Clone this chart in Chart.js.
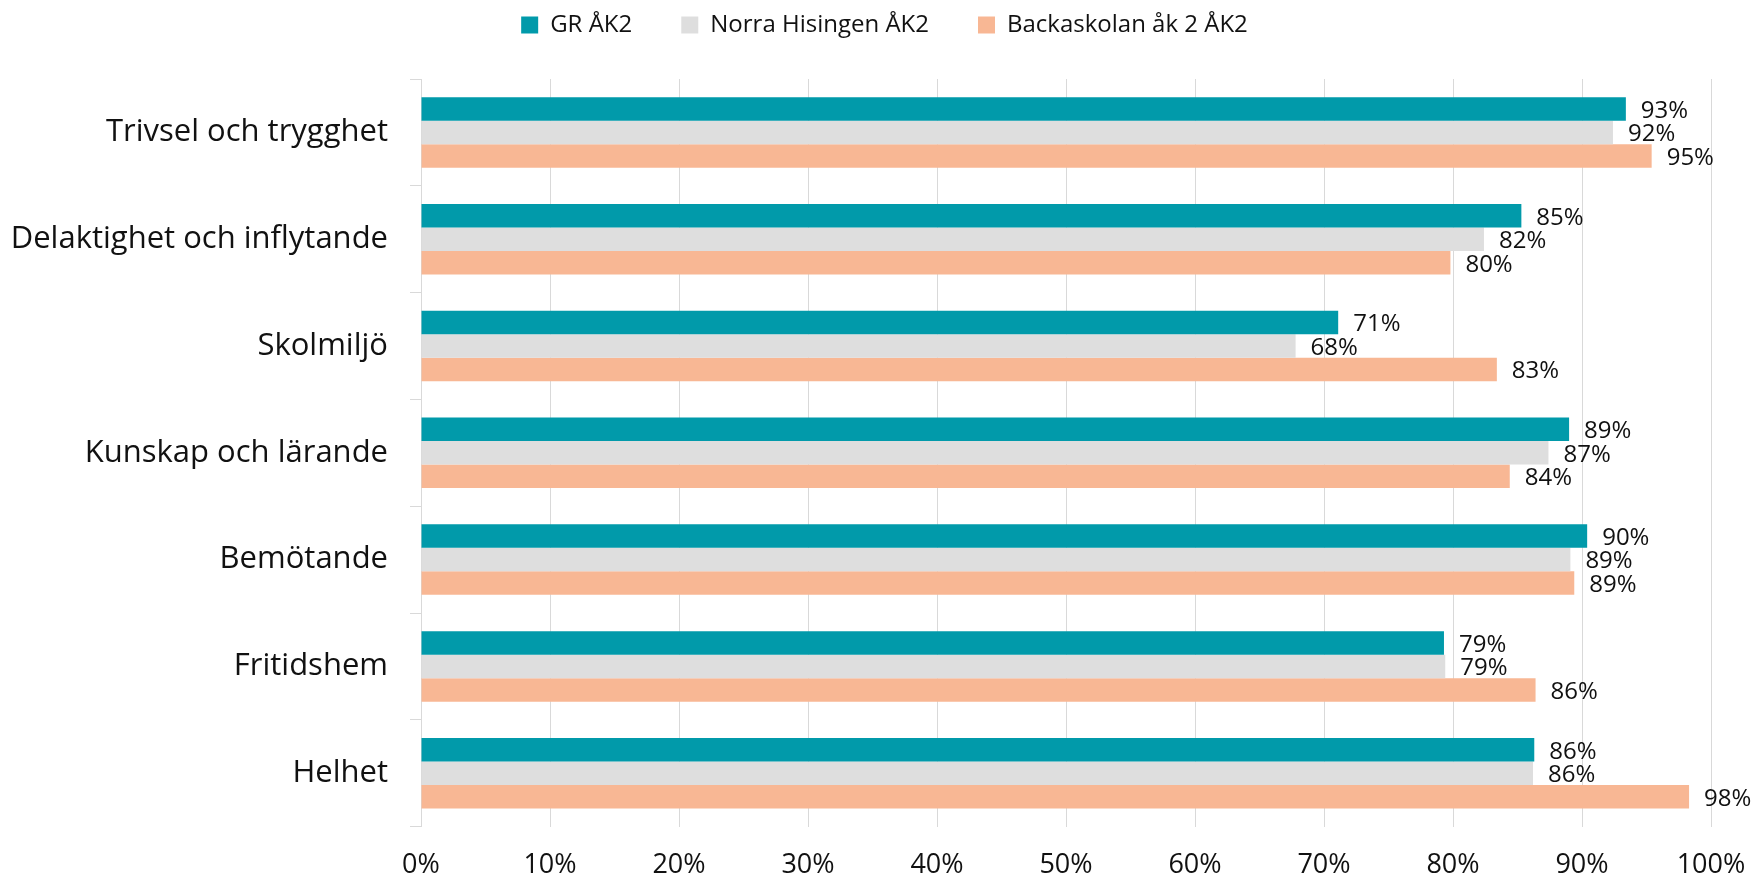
<!DOCTYPE html>
<html>
<head>
<meta charset="utf-8">
<script src="https://cdn.jsdelivr.net/npm/chart.js@4.4.1/dist/chart.umd.min.js"></script>
<style>
  html, body { margin: 0; padding: 0; background: #fff; }
</style>
</head>
<body>
<canvas id="chart" width="1755" height="878"></canvas>
<script>
const categories = ['Trivsel och trygghet', 'Delaktighet och inflytande', 'Skolmiljö', 'Kunskap och lärande', 'Bemötande', 'Fritidshem', 'Helhet']
const seriesNames = ['GR ÅK2', 'Norra Hisingen ÅK2', 'Backaskolan åk 2 ÅK2']
const grValues = [93.4, 85.3, 71.1, 89.0, 90.4, 79.3, 86.3]
const norraValues = [92.4, 82.4, 67.8, 87.4, 89.1, 79.4, 86.2]
const backaValues = [95.4, 79.8, 83.4, 84.4, 89.4, 86.4, 98.3]
const colors = ['#019aaa', '#dedede', '#f8b794']

const FONT = '"Open Sans", "Noto Sans", sans-serif'
const TEXT = '#111'

// value labels at the end of each bar
const barLabels = {
    id: 'barLabels',
    afterDatasetsDraw(chart) {
        const ctx = chart.ctx
        ctx.save()
        ctx.font = '24px ' + FONT
        ctx.fillStyle = TEXT
        ctx.textBaseline = 'middle'
        chart.data.datasets.forEach((ds, i) => {
            chart.getDatasetMeta(i).data.forEach((bar, j) => {
                ctx.fillText(Math.round(ds.data[j]) + '%', bar.x + 15, bar.y + 2)
            })
        })
        ctx.restore()
    }
}

// fixed legend height so the plot starts where it should, legend nudged right
const legendBox = {
    id: 'legendBox',
    afterInit(chart) {
        const fit = chart.legend.fit
        chart.legend.fit = function () {
            fit.call(this)
            this.height = 115
        }
    },
    afterLayout(chart) {
        chart.legend.left += 29
        chart.legend.right += 29
    }
}

new Chart(document.getElementById('chart').getContext('2d'), {
    type: 'bar',
    data: {
        labels: categories,
        datasets: [
            {label: seriesNames[0], data: grValues, backgroundColor: colors[0]},
            {label: seriesNames[1], data: norraValues, backgroundColor: colors[1]},
            {label: seriesNames[2], data: backaValues, backgroundColor: colors[2]}
        ]
    },
    plugins: [barLabels, legendBox],
    options: {
        indexAxis: 'y',
        responsive: false,
        animation: false,
        devicePixelRatio: 1,
        layout: {
            padding: {top: -36, right: 44, left: 0, bottom: -27}
        },
        datasets: {
            bar: {
                categoryPercentage: 0.66,
                barPercentage: 1.0,
                borderWidth: 0
            }
        },
        plugins: {
            legend: {
                position: 'top',
                labels: {
                    boxWidth: 17,
                    boxHeight: 17,
                    padding: 49,
                    color: TEXT,
                    font: {family: FONT, size: 24}
                }
            },
            tooltip: {enabled: false}
        },
        scales: {
            x: {
                min: 0,
                max: 100,
                ticks: {
                    stepSize: 10,
                    padding: 23,
                    color: TEXT,
                    font: {family: FONT, size: 27},
                    callback: v => v + '%'
                },
                grid: {
                    color: '#d9d9d9',
                    drawTicks: false
                },
                border: {display: false},
                afterFit: scale => {
                    scale.paddingLeft = 0
                    scale.paddingRight = 0
                }
            },
            y: {
                ticks: {
                    padding: 22,
                    color: TEXT,
                    font: {family: FONT, size: 31}
                },
                grid: {
                    drawOnChartArea: false,
                    color: '#d9d9d9',
                    tickLength: 11
                },
                border: {color: '#d9d9d9'},
                afterFit: scale => { scale.width = 421 }
            }
        }
    }
})
</script>
</body>
</html>
